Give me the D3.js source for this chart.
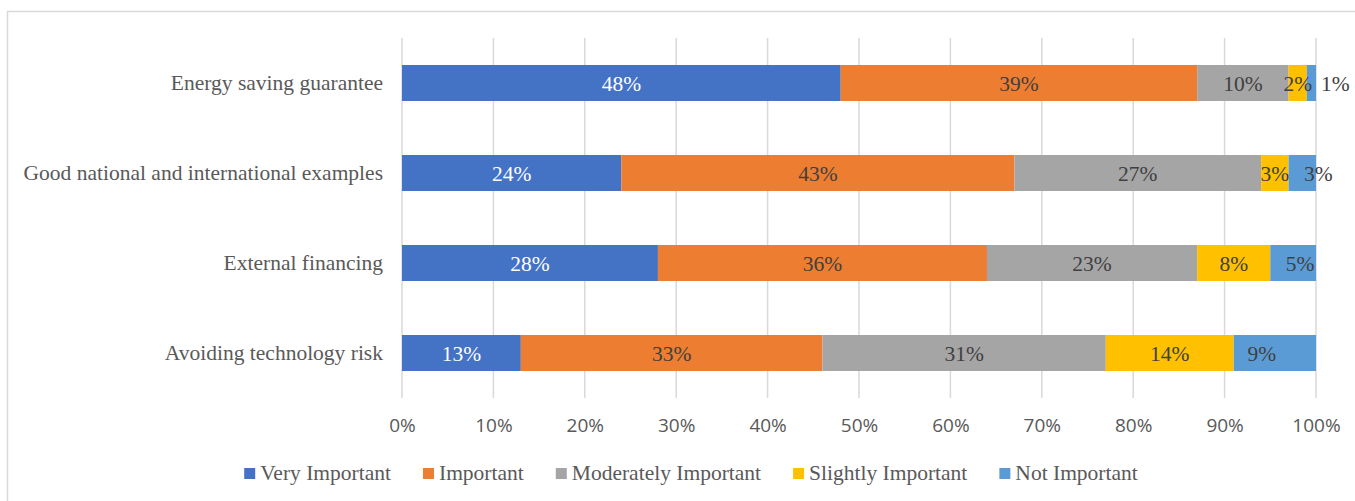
<!DOCTYPE html>
<html><head><meta charset="utf-8">
<script src="https://cdn.jsdelivr.net/npm/d3@7"></script>
<style>body{margin:0;background:#fff;}svg{display:block;}</style>
</head><body>
<svg id="chart" width="1355" height="501"></svg>
<script>
const categories = ["Energy saving guarantee","Good national and international examples","External financing","Avoiding technology risk"];
const seriesNames = ["Very Important","Important","Moderately Important","Slightly Important","Not Important"];
const veryImportant = [48,24,28,13];
const important = [39,43,36,33];
const moderatelyImportant = [10,27,23,31];
const slightlyImportant = [2,3,8,14];
const notImportant = [1,3,5,9];
const tickValues = [0,10,20,30,40,50,60,70,80,90,100];

const colors = ["#4472C4","#ED7D31","#A5A5A5","#FFC000","#5B9BD5"];
const labelColors = ["#ffffff","#404040","#404040","#404040","#404040"];
// manual label nudges (Excel-style moved labels): key "category-series" -> dx
const nudges = {"0-4":24,"1-4":16,"3-4":-13,"2-4":7};
const serif = "'Liberation Serif','Times New Roman',serif";

const svg = d3.select("#chart");
svg.append("rect").attr("x",7.5).attr("y",11.5).attr("width",1360).attr("height",500)
  .attr("fill","none").attr("stroke","#d9d9d9").attr("stroke-width",1.5);

const x = d3.scaleLinear().domain([0,100]).range([402,1316]);
const y = d3.scaleBand().domain(categories).range([38,398]).paddingInner(0.6).paddingOuter(0.3);

svg.append("g").selectAll("line").data(tickValues).join("line")
  .attr("x1",d=>x(d)).attr("x2",d=>x(d)).attr("y1",38).attr("y2",398)
  .attr("stroke","#d9d9d9").attr("stroke-width",1.5);

const seriesArr = [veryImportant,important,moderatelyImportant,slightlyImportant,notImportant];
const rows = categories.map((c,i)=>{
  const o={cat:c}; seriesNames.forEach((s,j)=>o[s]=seriesArr[j][i]); return o;});
const stacked = d3.stack().keys(seriesNames)(rows);

const gBars = svg.append("g");
stacked.forEach((layer,j)=>{
  gBars.selectAll(null).data(layer).join("rect")
    .attr("x",d=>x(d[0])).attr("width",d=>x(d[1])-x(d[0]))
    .attr("y",d=>y(d.data.cat)).attr("height",y.bandwidth())
    .attr("fill",colors[j]);
});
stacked.forEach((layer,j)=>{
  gBars.selectAll(null).data(layer).join("text")
    .attr("x",(d,i)=>(x(d[0])+x(d[1]))/2 + (nudges[i+"-"+j]||0))
    .attr("y",d=>y(d.data.cat)+y.bandwidth()/2)
    .attr("dy","0.35em").attr("text-anchor","middle")
    .attr("font-family",serif).attr("font-size",21.5)
    .attr("fill",labelColors[j])
    .text(d=>(d[1]-d[0])+"%");
});

const yAxis = d3.axisLeft(y).tickSize(0).tickPadding(19);
const gy = svg.append("g").attr("transform","translate(402,0)").call(yAxis);
gy.select(".domain").remove();
gy.selectAll("text").attr("font-family",serif).attr("font-size",21.5).attr("fill","#595959");

const xAxis = d3.axisBottom(x).tickValues(tickValues).tickSize(0).tickPadding(0).tickFormat(d=>d+"%");
const gx = svg.append("g").attr("transform","translate(0,418)").call(xAxis);
gx.select(".domain").remove();
gx.selectAll("text").attr("font-family","'Open Sans',sans-serif").attr("font-size",19).attr("fill","#595959");

const leg = svg.append("g");
const items = leg.selectAll("g").data(seriesNames).join("g");
items.append("rect").attr("width",11).attr("height",11).attr("y",-12).attr("fill",(d,i)=>colors[i]);
items.append("text").attr("x",16).attr("y",0)
  .attr("font-family",serif).attr("font-size",21.5)
  .attr("fill","#595959").text(d=>d);
const gap = 32;
const widths = [];
items.each(function(){ widths.push(this.getBBox().width); });
const total = d3.sum(widths)+gap*(widths.length-1);
let start = 691 - total/2;
items.attr("transform",(d,i)=>{ const t=`translate(${start},480)`; start += widths[i]+gap; return t; });
</script>
</body></html>
